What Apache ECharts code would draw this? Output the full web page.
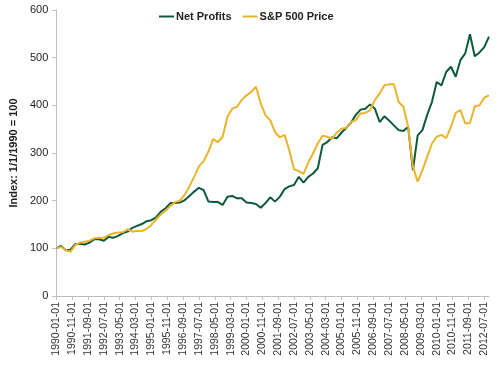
<!DOCTYPE html>
<html>
<head>
<meta charset="utf-8">
<script src="https://cdn.jsdelivr.net/npm/echarts@6/dist/echarts.min.js"></script>
<style>
html,body{margin:0;padding:0;background:#fff;}
#chart{width:500px;height:365px;}
</style>
</head>
<body>
<div id="chart"></div>
<script>
// Monthly category axis 1990-01-01 .. 2012-10-01 (labels every 10 months)
var startYear = 1990, monthCount = 274;
var months = [];
for (var k = 0; k < monthCount; k++) {
  var y = startYear + Math.floor(k / 12), mo = (k % 12) + 1;
  months.push(y + '-' + (mo < 10 ? '0' + mo : mo) + '-01');
}
// Quarterly observations (one every 3 months starting 1990-01-01)
var netProfits = [
  100,105,96,97,109,109,108,112,119,119,116,124,122,126,132,135,
  143,147,151,157,159,165,177,184,195,195,196,201,210,219,227,222,
  198,197,197,191,208,210,205,205,196,195,193,185,195,207,198,208,
  224,230,233,250,238,250,257,268,317,323,333,331,343,353,364,380,
  391,393,402,393,365,377,368,358,348,346,355,264,337,348,380,407,
  449,442,470,481,460,495,509,549,503,511,522,544
];
var spPrice = [
  100,103,96,93,107,112,114,116,121,122,122,128,131,133,134,140,
  135,137,136,141,149,161,171,179,189,197,200,212,230,250,272,283,
  303,329,323,334,376,393,397,411,421,428,439,404,379,369,344,333,
  338,306,266,262,256,280,299,320,336,334,330,343,351,353,365,369,
  383,384,390,411,425,442,444,444,407,397,355,271,240,264,292,320,
  334,338,331,355,384,390,362,363,398,400,416,421
];
var seriesNames = ['Net Profits', 'S&P 500 Price'];
var yTicks = {min: 0, max: 600, interval: 100};

function toPairs(vals) {
  return vals.map(function (v, i) { return [months[i * 3], v]; });
}

var chart = echarts.init(document.getElementById('chart'), null, {renderer: 'canvas'});
var font = 'Arial, "Liberation Sans", sans-serif';
chart.setOption({
  animation: false,
  textStyle: {fontFamily: font},
  legend: {
    data: seriesNames,
    left: 154, top: 6,
    icon: 'rect',
    itemWidth: 15, itemHeight: 2, itemGap: 11,
    textStyle: {fontFamily: font, fontSize: 11, fontWeight: 'bold', color: '#222', padding: [0, 0, 0, -3]}
  },
  grid: {left: 48, right: 11, top: 10, bottom: 69, containLabel: false},
  xAxis: {
    type: 'category',
    data: months,
    boundaryGap: false,
    axisLine: {lineStyle: {color: '#bfbfbf', width: 1}},
    axisTick: {show: true, interval: 9, length: 4, lineStyle: {color: '#bfbfbf'}},
    axisLabel: {interval: 9, rotate: 90, fontSize: 10.5, color: '#333', fontFamily: font, margin: 6},
    splitLine: {show: false}
  },
  yAxis: {
    type: 'value',
    min: yTicks.min, max: yTicks.max, interval: yTicks.interval,
    name: 'Index: 1/1/1990 = 100',
    nameLocation: 'middle',
    nameGap: 33,
    nameTextStyle: {fontFamily: font, fontSize: 11, fontWeight: 'bold', color: '#222'},
    axisLine: {show: true, lineStyle: {color: '#bfbfbf', width: 1}},
    axisTick: {show: true, length: 4, lineStyle: {color: '#bfbfbf'}},
    axisLabel: {fontSize: 11, color: '#222', fontFamily: font, margin: 8},
    splitLine: {show: false}
  },
  series: [
    {
      name: seriesNames[0], type: 'line', symbol: 'none',
      data: toPairs(netProfits),
      lineStyle: {color: '#0d5a3b', width: 2},
      itemStyle: {color: '#0d5a3b'}
    },
    {
      name: seriesNames[1], type: 'line', symbol: 'none',
      data: toPairs(spPrice),
      lineStyle: {color: '#eab42c', width: 2},
      itemStyle: {color: '#eab42c'}
    }
  ]
});
</script>
</body>
</html>
